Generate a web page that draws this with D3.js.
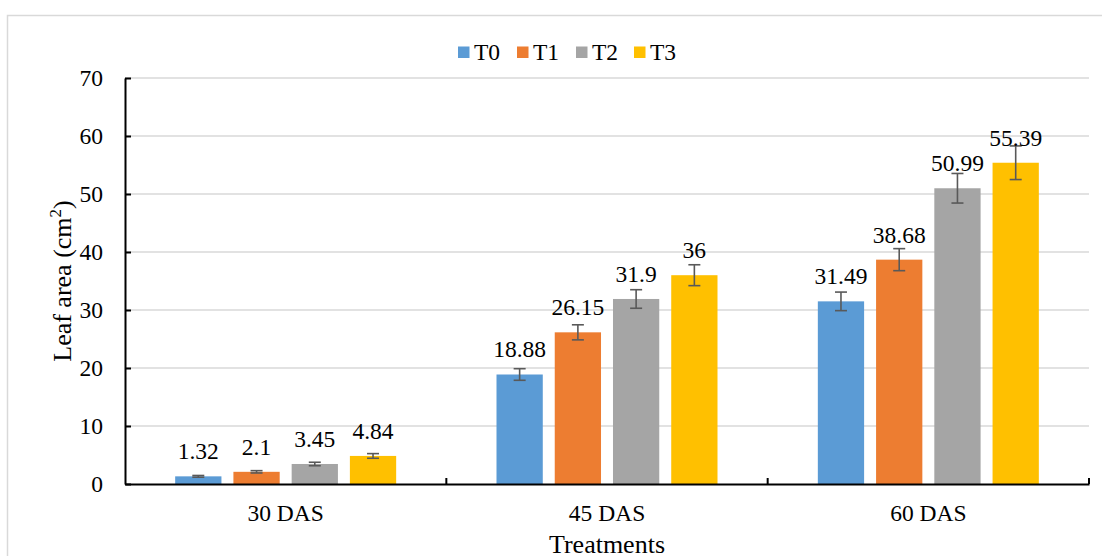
<!DOCTYPE html>
<html>
<head>
<meta charset="utf-8">
<script src="https://cdn.jsdelivr.net/npm/d3@7"></script>
<style>
  html, body { margin: 0; padding: 0; background: #fff; }
  svg { display: block; }
</style>
</head>
<body>
<svg id="chart" width="1102" height="556"></svg>
<script>
const categories = ["30 DAS", "45 DAS", "60 DAS"];
const seriesNames = ["T0", "T1", "T2", "T3"];
const seriesColors = ["#5B9BD5", "#ED7D31", "#A5A5A5", "#FFC000"];
const T0 = [1.32, 18.88, 31.49];
const T1 = [2.1, 26.15, 38.68];
const T2 = [3.45, 31.9, 50.99];
const T3 = [4.84, 36, 55.39];
const T0err = [0.15, 1.0, 1.6];
const T1err = [0.2, 1.3, 1.9];
const T2err = [0.3, 1.6, 2.55];
const T3err = [0.4, 1.8, 2.9];
const yTicks = [0, 10, 20, 30, 40, 50, 60, 70];
const yTitle = "Leaf area (cm";
const xTitle = "Treatments";

const values = [T0, T1, T2, T3];
const errs = [T0err, T1err, T2err, T3err];
const FONT = "'Liberation Serif', 'Times New Roman', Tinos, 'DejaVu Serif', serif";
const FS = 23.5, TFS = 26;

const svg = d3.select("#chart").attr("font-family", FONT);
const pLeft = 125, pRight = 1089, pTop = 78, pBottom = 484;

// chart border
svg.append("rect").attr("x", 7.5).attr("y", 15.5).attr("width", 1110).attr("height", 560)
  .attr("fill", "none").attr("stroke", "#D9D9D9").attr("stroke-width", 1.5);

const x = d3.scaleBand().domain(categories).range([pLeft, pRight]).paddingInner(0).paddingOuter(0);
const y = d3.scaleLinear().domain([0, 70]).range([pBottom, pTop]);
const bw = x.bandwidth();
const xi = d3.scaleBand().domain(seriesNames).range([0, 221]).paddingInner(12 / 58.4).paddingOuter(0);
const groupOffset = (bw - 221) / 2;

// gridlines
svg.append("g").selectAll("line").data(yTicks.filter(d => d > 0)).join("line")
  .attr("x1", pLeft).attr("x2", pRight)
  .attr("y1", d => y(d)).attr("y2", d => y(d))
  .attr("stroke", "#D9D9D9").attr("stroke-width", 1.5);

// bars
const flat = [];
seriesNames.forEach((s, si) => categories.forEach((c, ci) => flat.push({ s, si, c, v: values[si][ci], e: errs[si][ci] })));

svg.append("g").selectAll("rect").data(flat).join("rect")
  .attr("x", d => x(d.c) + groupOffset + xi(d.s))
  .attr("y", d => y(d.v))
  .attr("width", xi.bandwidth())
  .attr("height", d => y(0) - y(d.v))
  .attr("fill", d => seriesColors[d.si]);

// error bars
const eg = svg.append("g").attr("stroke", "#595959").attr("stroke-width", 1.6).attr("fill", "none");
flat.forEach(d => {
  const cx = x(d.c) + groupOffset + xi(d.s) + xi.bandwidth() / 2;
  const y1 = y(d.v + d.e), y2 = y(d.v - d.e);
  eg.append("line").attr("x1", cx).attr("x2", cx).attr("y1", y1).attr("y2", y2);
  eg.append("line").attr("x1", cx - 6).attr("x2", cx + 6).attr("y1", y1).attr("y2", y1);
  eg.append("line").attr("x1", cx - 6).attr("x2", cx + 6).attr("y1", y2).attr("y2", y2);
});

// data labels
svg.append("g").selectAll("text").data(flat).join("text")
  .attr("x", d => x(d.c) + groupOffset + xi(d.s) + xi.bandwidth() / 2)
  .attr("y", d => y(d.v) - 17)
  .attr("text-anchor", "middle")
  .attr("font-size", FS).attr("fill", "#000")
  .text(d => String(d.v));

// y axis
const yAxis = d3.axisLeft(y).tickValues(yTicks).tickSize(-6).tickPadding(22).tickSizeOuter(0);
const yg = svg.append("g").attr("transform", `translate(${pLeft},0)`).call(yAxis);
yg.attr("font-family", FONT).attr("font-size", FS);
yg.select(".domain").attr("stroke", "#000").attr("stroke-width", 2);
yg.selectAll(".tick line").attr("stroke", "#000").attr("stroke-width", 2);
yg.selectAll(".tick text").attr("fill", "#000");

// x axis
const xAxis = d3.axisBottom(x).tickSize(0).tickPadding(0).tickSizeOuter(0);
const xg = svg.append("g").attr("transform", `translate(0,${pBottom})`).call(xAxis);
xg.attr("font-family", FONT).attr("font-size", FS);
xg.select(".domain").attr("stroke", "#000").attr("stroke-width", 2);
xg.selectAll(".tick text").attr("fill", "#000").attr("y", 37).attr("dy", 0);
// boundary ticks (inside)
const bounds = categories.map(c => x(c) + bw);
svg.append("g").selectAll("line").data(bounds).join("line")
  .attr("x1", d => d).attr("x2", d => d)
  .attr("y1", pBottom - 6).attr("y2", pBottom)
  .attr("stroke", "#000").attr("stroke-width", 2);

// axis titles
const yt = svg.append("text")
  .attr("transform", `translate(71,${(pTop + pBottom) / 2}) rotate(-90)`)
  .attr("text-anchor", "middle").attr("font-size", TFS).attr("fill", "#000");
yt.append("tspan").text(yTitle);
yt.append("tspan").attr("font-size", 17).attr("dy", -10).text("2");
yt.append("tspan").attr("dy", 10).text(")");

svg.append("text").attr("x", (pLeft + pRight) / 2).attr("y", 553)
  .attr("text-anchor", "middle").attr("font-size", TFS).attr("fill", "#000").text(xTitle);

// legend
const legendX = [458, 517, 576, 634];
const lg = svg.append("g");
seriesNames.forEach((s, i) => {
  lg.append("rect").attr("x", legendX[i]).attr("y", 46.5).attr("width", 11.5).attr("height", 11.5).attr("fill", seriesColors[i]);
  lg.append("text").attr("x", legendX[i] + 16).attr("y", 60).attr("font-size", FS).attr("fill", "#000").text(s);
});
</script>
</body>
</html>
